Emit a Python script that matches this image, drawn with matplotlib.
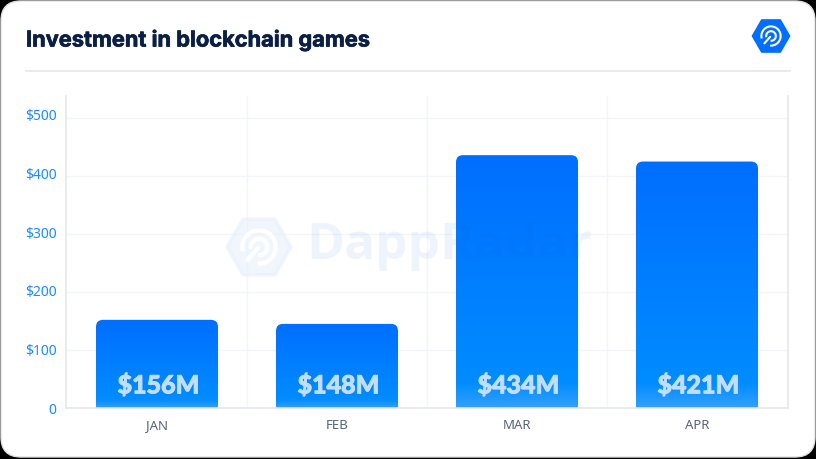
"""Investment in blockchain games - DappRadar bar chart."""
import matplotlib.patheffects as pe
import matplotlib.pyplot as plt
import numpy as np
from matplotlib.patches import FancyBboxPatch, PathPatch, Polygon
from matplotlib.path import Path

W, H = 816, 459

months = ["JAN", "FEB", "MAR", "APR"]
bar_heights = [152, 145, 436, 425]
bar_labels = ["$156M", "$148M", "$434M", "$421M"]
y_ticks = [0, 100, 200, 300, 400, 500]
y_tick_labels = ["0", "$100", "$200", "$300", "$400", "$500"]

TITLE_COLOR = "#0b1f44"
BLUE = "#006eff"
GRID = "#f3f5f8"
SPINE = "#e4e7ed"


def rounded_top_bar(x0, x1, top, rx, ry):
    verts = [(x0, 0), (x0, top - ry), (x0, top), (x0 + rx, top),
             (x1 - rx, top), (x1, top), (x1, top - ry), (x1, 0), (x0, 0)]
    codes = [Path.MOVETO, Path.LINETO, Path.CURVE3, Path.CURVE3,
             Path.LINETO, Path.CURVE3, Path.CURVE3, Path.LINETO, Path.CLOSEPOLY]
    return Path(verts, codes)


def draw_radar(ax, cx, cy, w, h, hex_color, ring_color, lw, alpha=1.0, zorder=5):
    # hexagon with flat top and bottom, then the two rings and the needle
    hexagon = [(cx - w / 2, cy), (cx - w / 4, cy - h / 2), (cx + w / 4, cy - h / 2),
               (cx + w / 2, cy), (cx + w / 4, cy + h / 2), (cx - w / 4, cy + h / 2)]
    ax.add_patch(Polygon(hexagon, closed=True, fc=hex_color, ec="none", alpha=alpha, zorder=zorder))
    ax.add_patch(Polygon(hexagon, closed=True, fill=False, ec=hex_color, lw=lw * 0.8,
                         joinstyle="round", alpha=alpha, zorder=zorder))
    t = np.radians(np.linspace(-95, 195, 80))
    for r in (0.26 * w, 0.13 * w):
        ax.plot(cx + r * np.cos(t), cy - r * np.sin(t), color=ring_color, lw=lw,
                solid_capstyle="butt", zorder=zorder + 1)
    ax.plot([cx - 0.02 * w, cx - 0.18 * w], [cy + 0.02 * w, cy + 0.2 * w], color=ring_color,
            lw=lw, solid_capstyle="round", zorder=zorder + 1)


fig = plt.figure(figsize=(W / 100, H / 100), dpi=100, facecolor="black")

# card behind everything
bg = fig.add_axes([0, 0, 1, 1], zorder=0)
bg.set_xlim(0, W)
bg.set_ylim(H, 0)
bg.axis("off")
bg.add_patch(FancyBboxPatch((1, 1), W - 2, H - 3, boxstyle="round,pad=0,rounding_size=20",
                            fc="white", ec="#e0e0e0", lw=1.0))
bg.plot([26, 790], [71, 71], color="#e6e6e8", lw=1.2)
bg.text(26, 38, "Investment in blockchain games", family="Inter", weight="bold",
        fontsize=15.7, color=TITLE_COLOR, va="center_baseline", ha="left",
        path_effects=[pe.withStroke(linewidth=0.5, foreground=TITLE_COLOR)])
draw_radar(bg, 771, 36, 37, 32, BLUE, "white", 1.5)

# chart
ax = fig.add_axes([66 / W, (H - 408) / H, (788 - 66) / W, (408 - 96) / H], zorder=1)
ax.patch.set_alpha(0)
xlim = (-91 / 180, 631 / 180)
ax.set_xlim(*xlim)
ax.set_ylim(0, 538)
ax.set_xticks(range(len(months)), months)
ax.set_yticks(y_ticks, [])
ax.tick_params(axis="y", length=0)
ax.tick_params(axis="x", length=0, pad=8, labelsize=9.5, labelcolor="#5a6478")
for lab in ax.get_xticklabels():
    lab.set_family("Noto Sans")
for name, spine in ax.spines.items():
    spine.set_color(SPINE)
    spine.set_linewidth(1.2)
ax.spines["top"].set_visible(False)
ax.spines["right"].set_color(SPINE)
ax.set_axisbelow(True)
ax.grid(axis="y", color=GRID, lw=1)
for x in np.arange(0.5, 3.5):
    ax.axvline(x, color=GRID, lw=1, zorder=0)

# the tick labels are spaced a little wider than the gridlines in the source
ax_lab = ax.twinx()
ax_lab.set_ylim(0, 312 / 0.586)
ax_lab.yaxis.tick_left()
ax_lab.set_yticks(y_ticks, y_tick_labels)
ax_lab.tick_params(axis="y", length=0, pad=7, labelsize=10, labelcolor="#1a8cff")
for lab in ax_lab.get_yticklabels():
    lab.set_family("Noto Sans")
ax_lab.patch.set_alpha(0)
for spine in ax_lab.spines.values():
    spine.set_visible(False)

gradient = np.linspace(0, 1, 256)
top_rgb = np.array([0x00, 0x6e, 0xff]) / 255
mid_rgb = np.array([0x00, 0x8c, 0xff]) / 255
bot_rgb = np.array([0x33, 0xa0, 0xff]) / 255
colors = np.column_stack([np.interp(gradient, [0, 0.9, 1], [top_rgb[c], mid_rgb[c], bot_rgb[c]])
                          for c in range(3)])

bar_w = 122 / 180
for i, (h, label) in enumerate(zip(bar_heights, bar_labels)):
    x0, x1 = i - bar_w / 2, i + bar_w / 2
    clip = PathPatch(rounded_top_bar(x0, x1, h, 7 / 180, 7 / 0.58), fc="none", ec="none",
                     transform=ax.transData)
    ax.add_patch(clip)
    im = ax.imshow(colors[:, None, :], extent=(x0, x1, 0, h), origin="upper", aspect="auto",
                   interpolation="bilinear", zorder=2)
    im.set_clip_path(clip)
    ax.text(i + 0.008, 39, label, ha="center", va="center", family="Lato", weight="black",
            fontsize=18, color="#c0deff", zorder=3,
            path_effects=[pe.withStroke(linewidth=0.7, foreground="#c0deff")])
ax.set_xlim(*xlim)
ax.set_ylim(0, 538)

# watermark sits over the bars
top = fig.add_axes([0, 0, 1, 1], zorder=2)
top.set_xlim(0, W)
top.set_ylim(H, 0)
top.axis("off")
top.patch.set_alpha(0)
draw_radar(top, 259, 247, 64, 56, "#e6f0fd", "white", 3.2, alpha=0.55)
top.text(306, 246, "DappRadar", family="Open Sans", weight="bold", fontsize=37,
         color="#0a5fd8", alpha=0.065, va="center", ha="left")

fig.savefig("out.png", dpi=100, facecolor="black")
